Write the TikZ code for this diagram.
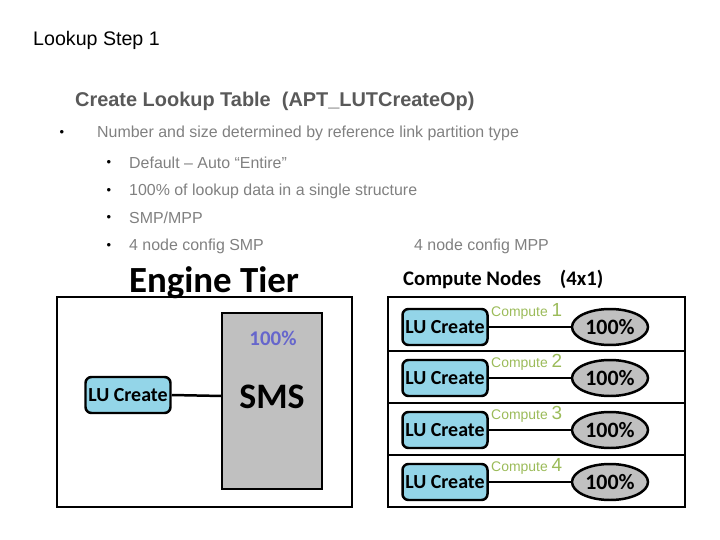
\documentclass[tikz,border=0pt]{standalone}
\usepackage{fontspec}
\setmainfont{Liberation Sans}
\newfontfamily\calibri{Carlito}
\usetikzlibrary{shapes.geometric}
\definecolor{titlegray}{HTML}{595959}
\definecolor{textgray}{HTML}{808080}
\definecolor{lublue}{HTML}{93D5E8}
\definecolor{smsgray}{HTML}{C0C0C0}
\definecolor{pctblue}{HTML}{6666CC}
\definecolor{compgreen}{HTML}{9BBB59}
\begin{document}
\begin{tikzpicture}[x=1bp,y=-1bp,
    txt/.style={anchor=west,inner sep=0pt,font=\fontsize{16}{18}\selectfont,text=textgray},
    dot/.style={anchor=center,inner sep=0pt,font=\fontsize{13}{14}\selectfont},
    frame/.style={draw=black,line width=2.5pt},
    lucreate/.style={draw=black,line width=2.5pt,fill=lublue,rounded corners=6pt,
      inner sep=0pt,font=\calibri\bfseries\fontsize{20}{22}\selectfont},
    pct/.style={ellipse,draw=black,line width=2.5pt,fill=smsgray,inner sep=0pt,
      minimum width=76bp,minimum height=36bp,font=\calibri\bfseries\fontsize{22}{24}\selectfont},
    wire/.style={line width=2.5pt},
    complabel/.style={anchor=south west,inner sep=0pt,text=compgreen,
      font=\fontsize{14}{16}\selectfont}]
  \useasboundingbox (0,0) rectangle (720,540);
  % heading and bullets
  \node[anchor=west,inner sep=0pt,font=\fontsize{19.7}{22}\selectfont] (step) at (33,40) {Lookup Step 1};
  \node[anchor=west,inner sep=0pt,text=titlegray,font=\bfseries\fontsize{20}{22}\selectfont] (title)
    at (75,101) {Create Lookup Table\ \ (APT\_LUTCreateOp)};
  \node[dot] (b0) at (62,133) {•};
  \node[txt] (l0) at (97,133) {Number and size determined by reference link partition type};
  \node[dot] (b1) at (109,163) {•};
  \node[txt] (l1) at (129,163) {Default – Auto “Entire”};
  \node[dot] (b2) at (109,191) {•};
  \node[txt] (l2) at (129,191) {100\% of lookup data in a single structure};
  \node[dot] (b3) at (109,218) {•};
  \node[txt] (l3) at (129,218) {SMP/MPP};
  \node[dot] (b4) at (109,246) {•};
  \node[txt] (l4) at (129,246) {4 node config SMP};
  \node[txt] (l5) at (414,246) {4 node config MPP};
  % SMP side
  \draw[frame] (57,297) rectangle (352,507);
  \node[font=\calibri\bfseries\fontsize{37}{39}\selectfont,inner sep=0pt] (engine) at (214,283) {Engine Tier};
  \draw[frame,fill=smsgray] (222,313) rectangle (322,489);
  \node[text=pctblue,font=\calibri\bfseries\fontsize{21}{23}\selectfont,inner sep=0pt] (pcts) at (273,338) {100\%};
  \node[font=\calibri\bfseries\fontsize{36}{38}\selectfont,inner sep=0pt] (sms) at (272,397) {SMS};
  \coordinate (smsin) at (222,396);
  \node[lucreate,minimum width=85bp,minimum height=36bp] (lu0) at (128,395) {LU Create};
  \draw[wire] (lu0.east) -- (smsin);
  % MPP side
  \node[anchor=west,inner sep=0pt,font=\calibri\bfseries\fontsize{20.8}{23}\selectfont] (cn) at (403,279) {Compute Nodes\ \ \ \ (4x1)};
  \draw[frame] (388,297) rectangle (685,351);
  \draw[frame] (388,351) rectangle (685,403);
  \draw[frame] (388,403) rectangle (685,455);
  \draw[frame] (388,455) rectangle (685,507);
  \foreach \i/\y in {1/327,2/378,3/430,4/482} {
    \node[lucreate,minimum width=85bp,minimum height=36bp] (lu\i) at (445,\y) {LU Create};
    \node[pct] (p\i) at (610,\y) {100\%};
    \draw[wire] (lu\i.east) -- (p\i.west);
    \node[complabel] (c\i) at (491,\y-7) {Compute {\fontsize{19}{21}\selectfont\i}};
  }
\end{tikzpicture}
\end{document}
